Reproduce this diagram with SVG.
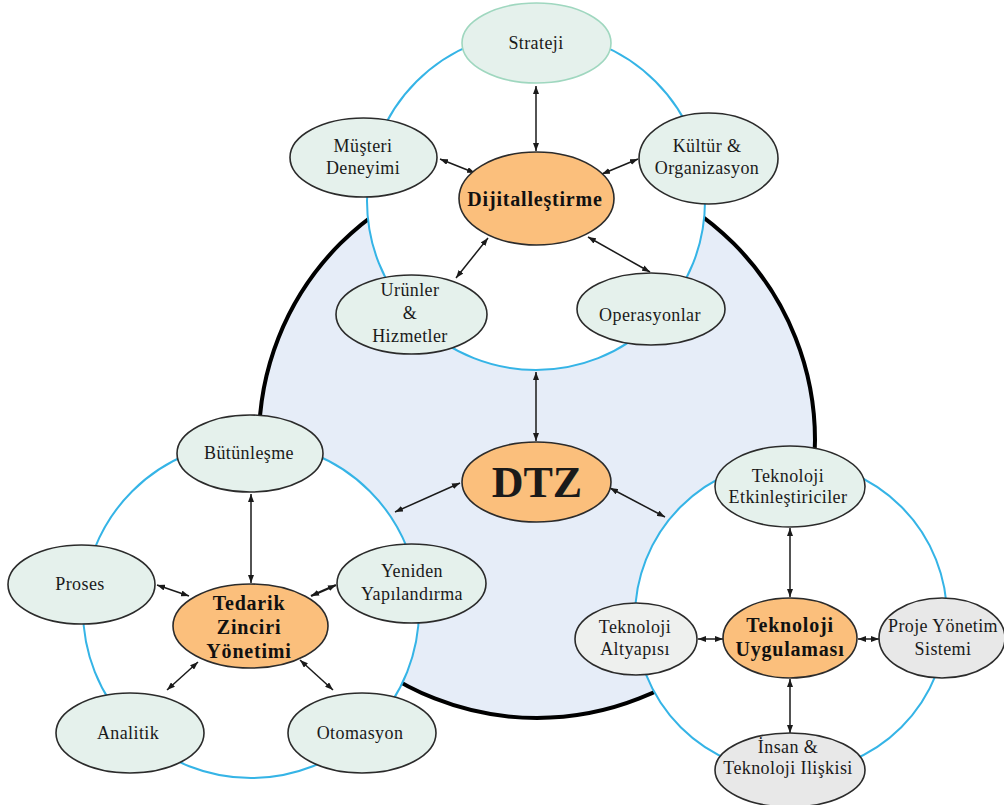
<svg xmlns="http://www.w3.org/2000/svg" width="1004" height="805" viewBox="0 0 1004 805">
  <defs>
    <marker id="ah" viewBox="0 0 8 6" refX="8" refY="3" markerWidth="8" markerHeight="6" markerUnits="userSpaceOnUse" orient="auto-start-reverse">
      <path d="M0,0 L8,3 L0,6 z" fill="#1a1a1a"/>
    </marker>
    <style>
      .ring { fill: #ffffff; stroke: #35b4e6; stroke-width: 2; }
      .node { fill: #e5f1ec; stroke: #2b2b2b; stroke-width: 1.6; }
      .core { fill: #fbbf7c; stroke: #2b2b2b; stroke-width: 1.6; }
      .grey { fill: #e8e8e8; stroke: #2b2b2b; stroke-width: 1.6; }
      .pale { fill: #eef0ee; stroke: #2b2b2b; stroke-width: 1.6; }
      .lbl { font-family: "Liberation Serif", "Times New Roman", serif; font-size: 18px; letter-spacing: 0.4px; fill: #1a1a1a; text-anchor: middle; }
      .bold { font-weight: bold; font-size: 20px; letter-spacing: 0.8px; fill: #111111; }
      .link { fill: none; stroke: #1a1a1a; stroke-width: 1.5; marker-start: url(#ah); marker-end: url(#ah); }
    </style>
  </defs>

  <rect width="1004" height="805" fill="#ffffff"/>

  <!-- outer DTZ disc -->
  <circle id="dtz-disc" cx="537" cy="440" r="278" fill="#e6edf8" stroke="#000000" stroke-width="4"/>

  <!-- cluster rings -->
  <g id="rings">
    <circle class="ring" cx="536" cy="201" r="169"/>
    <circle class="ring" cx="251" cy="610" r="168"/>
    <circle class="ring" cx="791" cy="617" r="156"/>
  </g>

  <!-- connectors -->
  <g id="connectors">
    <!-- Dijitalleştirme cluster -->
    <line class="link" x1="536" y1="86" x2="536" y2="151"/>
    <line class="link" x1="440" y1="159" x2="475" y2="173"/>
    <line class="link" x1="638" y1="159" x2="602" y2="174"/>
    <line class="link" x1="456" y1="278" x2="488" y2="238"/>
    <line class="link" x1="650" y1="272" x2="588" y2="237"/>
    <line class="link" x1="536" y1="372" x2="536" y2="441"/>
    <!-- DTZ to side clusters -->
    <line class="link" x1="460" y1="483" x2="395" y2="512"/>
    <line class="link" x1="610" y1="488" x2="665" y2="517"/>
    <!-- Tedarik Zinciri cluster -->
    <line class="link" x1="251" y1="494" x2="251" y2="583"/>
    <line class="link" x1="157" y1="585" x2="189" y2="596"/>
    <line class="link" x1="336" y1="585" x2="311" y2="596" style="stroke-width:2.4"/>
    <line class="link" x1="167" y1="690" x2="198" y2="662"/>
    <line class="link" x1="333" y1="690" x2="300" y2="660"/>
    <!-- Teknoloji cluster -->
    <line class="link" x1="790" y1="528" x2="790" y2="597"/>
    <line class="link" x1="698" y1="639" x2="723" y2="639"/>
    <line class="link" x1="879" y1="639" x2="858" y2="639"/>
    <line class="link" x1="790" y1="679" x2="790" y2="733"/>
  </g>

  <!-- Dijitalleştirme cluster nodes -->
  <g id="strateji">
    <ellipse cx="536.5" cy="43" rx="74.5" ry="40" fill="#e5f1ec" stroke="#9fd7bf" stroke-width="1.6"/>
    <text class="lbl" x="536" y="49">Strateji</text>
  </g>
  <g id="musteri-deneyimi">
    <ellipse class="node" cx="363.5" cy="157.5" rx="73.5" ry="39.5"/>
    <text class="lbl" x="363" y="152">Müşteri</text>
    <text class="lbl" x="363" y="174">Deneyimi</text>
  </g>
  <g id="kultur-organizasyon">
    <ellipse class="node" cx="708.5" cy="158.5" rx="69.5" ry="45.5"/>
    <text class="lbl" x="707" y="152">Kültür &amp;</text>
    <text class="lbl" x="707" y="174">Organizasyon</text>
  </g>
  <g id="dijitallestirme">
    <ellipse class="core" cx="536.5" cy="198.5" rx="77.5" ry="46.5"/>
    <text class="lbl bold" x="535" y="206">Dijitalleştirme</text>
  </g>
  <g id="urunler-hizmetler">
    <ellipse class="node" cx="411.5" cy="314.5" rx="75.5" ry="39.5"/>
    <text class="lbl" x="410" y="296">Urünler</text>
    <text class="lbl" x="410" y="319">&amp;</text>
    <text class="lbl" x="410" y="342">Hizmetler</text>
  </g>
  <g id="operasyonlar">
    <ellipse class="node" cx="651" cy="309" rx="74" ry="36"/>
    <text class="lbl" x="650" y="321">Operasyonlar</text>
  </g>

  <!-- centre -->
  <g id="dtz">
    <ellipse class="core" cx="536.5" cy="482" rx="74.5" ry="40"/>
    <text class="lbl" x="537" y="497" style="font-weight:bold;font-size:44px;letter-spacing:0">DTZ</text>
  </g>

  <!-- Tedarik Zinciri cluster nodes -->
  <g id="butunlesme">
    <ellipse class="node" cx="250" cy="453.5" rx="73" ry="38.5"/>
    <text class="lbl" x="249" y="459">Bütünleşme</text>
  </g>
  <g id="proses">
    <ellipse class="node" cx="81.5" cy="584.5" rx="73.5" ry="39.5"/>
    <text class="lbl" x="80" y="590">Proses</text>
  </g>
  <g id="yeniden-yapilandirma">
    <ellipse class="node" cx="411.5" cy="583.5" rx="74.5" ry="39.5"/>
    <text class="lbl" x="412" y="577">Yeniden</text>
    <text class="lbl" x="412" y="600">Yapılandırma</text>
  </g>
  <g id="tedarik-zinciri">
    <ellipse class="core" cx="250.5" cy="626" rx="77.5" ry="42"/>
    <text class="lbl bold" x="249" y="610">Tedarik</text>
    <text class="lbl bold" x="249" y="634">Zinciri</text>
    <text class="lbl bold" x="249" y="658">Yönetimi</text>
  </g>
  <g id="analitik">
    <ellipse class="node" cx="130" cy="733" rx="74" ry="40"/>
    <text class="lbl" x="128" y="739">Analitik</text>
  </g>
  <g id="otomasyon">
    <ellipse class="node" cx="362" cy="733" rx="74" ry="40"/>
    <text class="lbl" x="360" y="739">Otomasyon</text>
  </g>

  <!-- Teknoloji cluster nodes -->
  <g id="teknoloji-etkinlestiriciler">
    <ellipse class="node" cx="790" cy="486.5" rx="75" ry="40.5"/>
    <text class="lbl" x="788" y="482">Teknoloji</text>
    <text class="lbl" x="788" y="503">Etkinleştiriciler</text>
  </g>
  <g id="teknoloji-altyapisi">
    <ellipse class="pale" cx="636" cy="639" rx="61" ry="36"/>
    <text class="lbl" x="635" y="633">Teknoloji</text>
    <text class="lbl" x="635" y="655">Altyapısı</text>
  </g>
  <g id="teknoloji-uygulamasi">
    <ellipse class="core" cx="790" cy="638" rx="67" ry="40"/>
    <text class="lbl bold" x="790" y="632">Teknoloji</text>
    <text class="lbl bold" x="790" y="656">Uygulaması</text>
  </g>
  <g id="proje-yonetim">
    <ellipse class="grey" cx="942" cy="638" rx="63" ry="40"/>
    <text class="lbl" x="943" y="632">Proje Yönetim</text>
    <text class="lbl" x="943" y="655">Sistemi</text>
  </g>
  <g id="insan-teknoloji">
    <ellipse class="grey" cx="790" cy="770" rx="75" ry="37"/>
    <text class="lbl" x="788" y="753">İnsan &amp;</text>
    <text class="lbl" x="788" y="774">Teknoloji Ilişkisi</text>
  </g>
</svg>
